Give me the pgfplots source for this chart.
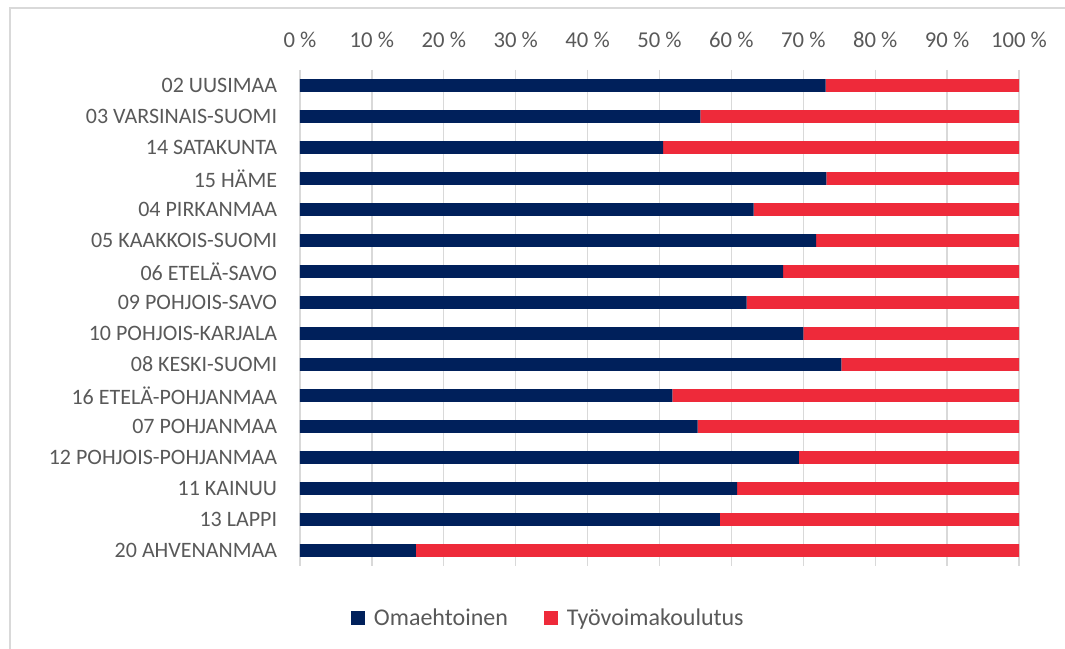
\documentclass[border=0pt]{standalone}
\usepackage{pgfplots}
\pgfplotsset{compat=1.18}
\usepackage{fontspec}
\setmainfont{Carlito}
\definecolor{navy}{HTML}{00205B}
\definecolor{redc}{HTML}{EE2A3A}
\definecolor{gridc}{HTML}{D9D9D9}
\definecolor{txt}{HTML}{595959}
\begin{document}
\begin{tikzpicture}
\path[use as bounding box] (0,0) rectangle (798.75pt,486.75pt);
\draw[gridc, line width=0.8pt] (7.5pt,0pt) -- (7.5pt,480.75pt) -- (798.75pt,480.75pt);
\begin{axis}[
  at={(225pt,62.25pt)}, anchor=south west,
  width=539.25pt, height=372pt, scale only axis,
  xbar stacked, bar width=9.4pt,
  y dir=reverse,
  xmin=0, xmax=100, ymin=-0.5, ymax=15.5,
  xtick={0,10,...,100},
  xticklabels={0 \%,10 \%,20 \%,30 \%,40 \%,50 \%,60 \%,70 \%,80 \%,90 \%,100 \%},
  xticklabel pos=upper,
  ytick={0,...,15},
  yticklabels={02 UUSIMAA,03 VARSINAIS-SUOMI,14 SATAKUNTA,15 HÄME,04 PIRKANMAA,05 KAAKKOIS-SUOMI,06 ETELÄ-SAVO,09 POHJOIS-SAVO,10 POHJOIS-KARJALA,08 KESKI-SUOMI,16 ETELÄ-POHJANMAA,07 POHJANMAA,12 POHJOIS-POHJANMAA,11 KAINUU,13 LAPPI,20 AHVENANMAA},
  axis line style={draw=none},
  major tick style={draw=none},
  xmajorgrids, grid style={gridc, line width=1pt},
  ticklabel style={font=\fontsize{16.5}{19}\selectfont, text=txt, inner sep=0pt},
  yticklabel style={anchor=east},
  yticklabel shift=17pt,
  xticklabel style={anchor=base, font=\fontsize{17}{19}\selectfont},
  xticklabel shift=17pt,
  legend style={at={(0.3456,-0.1048)}, anchor=center, draw=none, fill=none,
     font=\fontsize{18}{21}\selectfont, text=txt, legend columns=2,
     /tikz/every odd column/.append style={column sep=5pt},
     /tikz/every even column/.append style={column sep=24.75pt},
     inner sep=0pt},
  legend image code/.code={\fill[#1] (0pt,-5.25pt) rectangle (10.5pt,5.25pt);},
]
\addplot[fill=navy, draw=none] coordinates {
(73.1,0) (55.7,1) (50.5,2) (73.2,3) (63.1,4) (71.8,5) (67.2,6) (62.1,7)
(70.0,8) (75.3,9) (51.8,10) (55.3,11) (69.4,12) (60.8,13) (58.4,14) (16.1,15)};
\addplot[fill=redc, draw=none] coordinates {
(26.9,0) (44.3,1) (49.5,2) (26.8,3) (36.9,4) (28.2,5) (32.8,6) (37.9,7)
(30.0,8) (24.7,9) (48.2,10) (44.7,11) (30.6,12) (39.2,13) (41.6,14) (83.9,15)};
\legend{Omaehtoinen,Työvoimakoulutus}
\end{axis}
\end{tikzpicture}
\end{document}
